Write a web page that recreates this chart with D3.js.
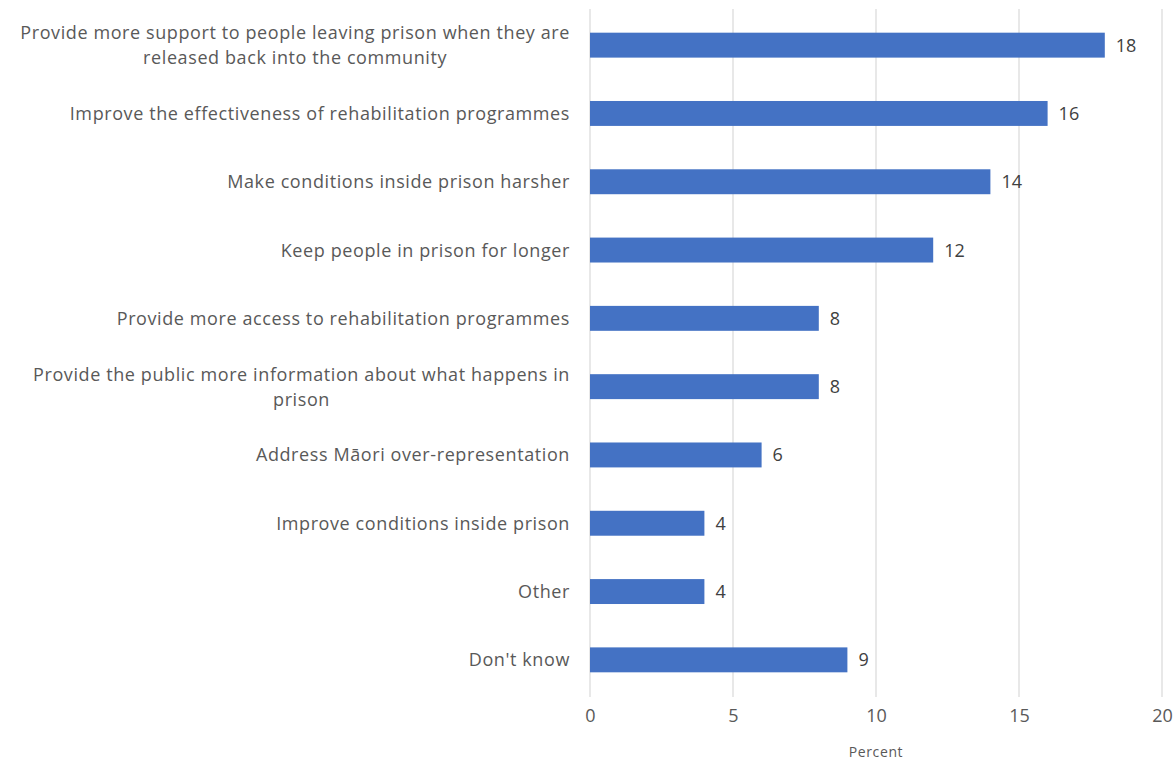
<!DOCTYPE html>
<html>
<head>
<meta charset="utf-8">
<script src="https://cdn.jsdelivr.net/npm/d3@7"></script>
<style>
  body { margin: 0; background: #ffffff; }
  svg text { font-family: "Open Sans", Lato, sans-serif; }
</style>
</head>
<body>
<svg id="chart" width="1176" height="760"></svg>
<script>
// Survey responses: what would most improve the prison system (percent)
const categories = [
  "Provide more support to people leaving prison when they are released back into the community",
  "Improve the effectiveness of rehabilitation programmes",
  "Make conditions inside prison harsher",
  "Keep people in prison for longer",
  "Provide more access to rehabilitation programmes",
  "Provide the public more information about what happens in prison",
  "Address Māori over-representation",
  "Improve conditions inside prison",
  "Other",
  "Don't know"
];
// Label lines as they wrap in the category axis
const labelLines = [
  ["Provide more support to people leaving prison when they are", "released back into the community"],
  ["Improve the effectiveness of rehabilitation programmes"],
  ["Make conditions inside prison harsher"],
  ["Keep people in prison for longer"],
  ["Provide more access to rehabilitation programmes"],
  ["Provide the public more information about what happens in", "prison"],
  ["Address Māori over-representation"],
  ["Improve conditions inside prison"],
  ["Other"],
  ["Don't know"]
];
const values = [18, 16, 14, 12, 8, 8, 6, 4, 4, 9];
const xTicks = [0, 5, 10, 15, 20];
const xTitle = "Percent";

const svg = d3.select("#chart");
const margin = { left: 590, right: 14, top: 11, bottom: 66 };
const W = 1176, H = 760;

const x = d3.scaleLinear().domain([0, 20]).range([margin.left, W - margin.right]);
const y = d3.scaleBand().domain(categories).range([margin.top, H - margin.bottom]).paddingInner(0.635).paddingOuter(0.3175);

// vertical gridlines
svg.append("g").selectAll("line").data(xTicks).join("line")
  .attr("x1", d => x(d)).attr("x2", d => x(d))
  .attr("y1", margin.top - 2).attr("y2", H - margin.bottom + 3)
  .attr("stroke", "#d9d9d9").attr("stroke-width", 1.2);

// x axis tick labels
const xAxis = d3.axisBottom(x).tickValues(xTicks).tickSize(0).tickPadding(0);
const gx = svg.append("g").attr("transform", `translate(0, ${H - margin.bottom + 22})`).call(xAxis);
gx.select(".domain").remove();
gx.selectAll("text").attr("fill", "#595959").style("font-size", "18px")
  .style("font-family", "'Open Sans', Lato, sans-serif").attr("dy", "0.35em").attr("y", 0);

// axis title
svg.append("text").attr("x", (x(0) + x(20)) / 2).attr("y", 757)
  .attr("text-anchor", "middle").attr("fill", "#595959").style("font-size", "14px")
  .style("letter-spacing", "0.6px").text(xTitle);

// bars
svg.append("g").selectAll("rect").data(values).join("rect")
  .attr("x", x(0)).attr("y", (d, i) => y(categories[i]))
  .attr("width", d => x(d) - x(0)).attr("height", y.bandwidth())
  .attr("fill", "#4472c4");

// value labels
svg.append("g").selectAll("text").data(values).join("text")
  .attr("x", d => x(d) + 11).attr("y", (d, i) => y(categories[i]) + y.bandwidth() / 2)
  .attr("dy", "0.36em").attr("fill", "#404040").style("font-size", "18px")
  .text(d => d);

// category labels: block right-aligned, lines centred within the block
const labelX = x(0) - 20;
const lineH = 25;
const labelStyle = sel => sel.attr("fill", "#595959").style("font-size", "18px").style("letter-spacing", "0.6px");
categories.forEach((c, i) => {
  const lines = labelLines[i];
  const cy = y(c) + y.bandwidth() / 2;
  const g = svg.append("g");
  const first = g.append("text").attr("x", labelX).attr("text-anchor", "end")
    .attr("y", cy - (lines.length - 1) * lineH / 2).attr("dy", "0.36em")
    .call(labelStyle).text(lines[0]);
  if (lines.length > 1) {
    const w = first.node().getComputedTextLength();
    lines.slice(1).forEach((ln, k) => {
      g.append("text").attr("x", labelX - w / 2).attr("text-anchor", "middle")
        .attr("y", cy - (lines.length - 1) * lineH / 2 + (k + 1) * lineH).attr("dy", "0.36em")
        .call(labelStyle).text(ln);
    });
  }
});
</script>
</body>
</html>
